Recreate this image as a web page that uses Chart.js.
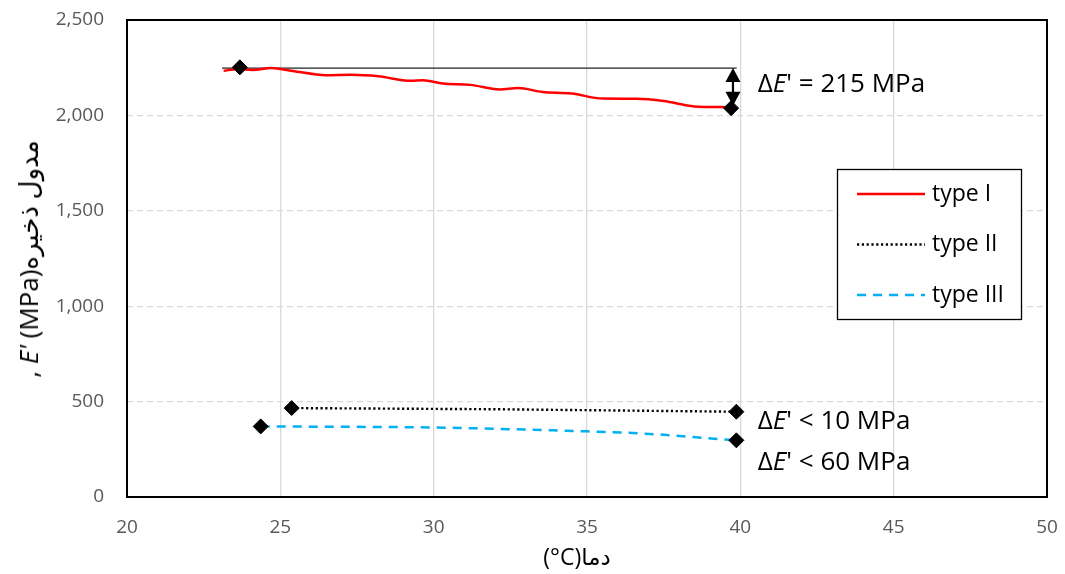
<!DOCTYPE html>
<html>
<head>
<meta charset="utf-8">
<script src="https://cdn.jsdelivr.net/npm/chart.js@4.4.0/dist/chart.umd.min.js"></script>
<style>
  html, body { margin: 0; padding: 0; background: #fff; }
  #wrap { position: relative; width: 1065px; height: 574px; }
  canvas { position: absolute; left: 0; top: 0; }
  .title { position: absolute; font-family: "Open Sans", "DejaVu Sans", sans-serif; font-size: 23px; color: #000; white-space: nowrap; }
  #xtitle { left: 577px; top: 556px; transform: translate(-50%, -50%); direction: ltr; }
  #ytitle { left: 28px; top: 259px; transform: translate(-50%, -50%) rotate(-90deg); direction: ltr; font-size: 26px; }
</style>
</head>
<body>
<div id="wrap">
  <canvas id="c" width="1065" height="574"></canvas>
  <div class="title" id="xtitle" dir="ltr">(°C)<bdi dir="rtl">دما</bdi></div>
  <div class="title" id="ytitle">, <i>E'</i> (MPa)<bdi dir="rtl">مدول ذخیره</bdi></div>
</div>
<script>
// ---- data ----
const xTicks = [20, 25, 30, 35, 40, 45, 50];
const yTicks = [0, 500, 1000, 1500, 2000, 2500];
const seriesNames = ["type I", "type II", "type III"];

const typeI_x = [23.15, 23.6, 24.1, 24.7, 25.4, 26.5, 27.3, 28.2, 29.25, 29.65, 30.3, 31.2, 32.15, 32.75, 33.55, 34.5, 35.5, 36.6, 37.5, 38.5, 39.6];
const typeI_y = [2234, 2242, 2238, 2249, 2233, 2211, 2213, 2205, 2181, 2184, 2167, 2160, 2136, 2143, 2123, 2115, 2088, 2087, 2075, 2047, 2043];

const typeII_x = [25.37, 32.0, 39.87];
const typeII_y = [466, 460, 447];

const typeIII_x = [24.36, 30.0, 34.6, 36.9, 39.87];
const typeIII_y = [370, 364, 346, 332, 297];

const marker_x = [23.68, 39.7, 25.37, 39.87, 24.36, 39.87];
const marker_y = [2252, 2038, 466, 447, 370, 297];

const refLine_x = [23.1, 39.88];
const refLine_y = [2248, 2248];

const arrow_x = 39.76;
const arrow_y = [2248, 2040];

const annot_text = ["= 215 MPa", "< 10 MPa", "< 60 MPa"];
const annot_x = [40.57, 40.57, 40.57];
const annot_y = [2159, 393, 178];

// ---- helpers ----
const pts = (xs, ys) => xs.map((x, i) => ({ x: x, y: ys[i] }));
const FONT = '"Open Sans", "DejaVu Sans", sans-serif';

const overlay = {
  id: 'overlay',
  afterDatasetsDraw(chart) {
    const ctx = chart.ctx, xs = chart.scales.x, ys = chart.scales.y;
    const a = chart.chartArea;
    ctx.save();
    // double-headed arrow
    const ax = xs.getPixelForValue(arrow_x);
    const top = ys.getPixelForValue(arrow_y[0]);
    const bot = ys.getPixelForValue(arrow_y[1]);
    ctx.strokeStyle = '#000'; ctx.fillStyle = '#000'; ctx.lineWidth = 2.2;
    ctx.beginPath(); ctx.moveTo(ax, top + 8); ctx.lineTo(ax, bot - 8); ctx.stroke();
    ctx.beginPath(); ctx.moveTo(ax, top); ctx.lineTo(ax - 7.5, top + 14); ctx.lineTo(ax + 7.5, top + 14); ctx.closePath(); ctx.fill();
    ctx.beginPath(); ctx.moveTo(ax, bot - 2); ctx.lineTo(ax - 7.5, bot - 16); ctx.lineTo(ax + 7.5, bot - 16); ctx.closePath(); ctx.fill();

    // annotations
    ctx.textBaseline = 'middle'; ctx.textAlign = 'left'; ctx.fillStyle = '#000';
    for (let i = 0; i < annot_text.length; i++) {
      let px = xs.getPixelForValue(annot_x[i]);
      const py = ys.getPixelForValue(annot_y[i]);
      ctx.font = '26px ' + FONT;
      ctx.fillText('\u0394', px, py); px += ctx.measureText('\u0394').width;
      ctx.font = 'italic 26px ' + FONT;
      ctx.fillText('E', px, py); px += ctx.measureText('E').width;
      ctx.font = '26px ' + FONT;
      ctx.fillText("' " + annot_text[i], px, py);
    }

    // legend box
    const lx = 837, ly = 169, lw = 184, lh = 150;
    ctx.fillStyle = '#fff'; ctx.fillRect(lx, ly, lw, lh);
    ctx.strokeStyle = '#000'; ctx.lineWidth = 1.3; ctx.strokeRect(lx + 0.5, ly + 0.5, lw, lh);
    const ds = chart.data.datasets.filter(d => seriesNames.includes(d.label));
    ds.forEach((d, i) => {
      const yy = 194 + i * 50.5;
      ctx.save();
      ctx.strokeStyle = d.borderColor; ctx.lineWidth = d.borderWidth;
      ctx.setLineDash(d.borderDash || []);
      ctx.beginPath(); ctx.moveTo(857, yy); ctx.lineTo(925, yy); ctx.stroke();
      ctx.restore();
      ctx.fillStyle = '#000'; ctx.font = '23px ' + FONT; ctx.textBaseline = 'middle';
      ctx.fillText(d.label, 932, yy);
    });

    // plot frame
    ctx.strokeStyle = '#000'; ctx.lineWidth = 2; ctx.setLineDash([]);
    ctx.strokeRect(a.left, a.top, a.right - a.left, a.bottom - a.top);
    ctx.restore();
  }
};

new Chart(document.getElementById('c'), {
  type: 'scatter',
  data: {
    datasets: [
      { label: 'markers', data: pts(marker_x, marker_y), showLine: false, pointStyle: 'rectRot', pointRadius: 7.5, pointBackgroundColor: '#000', pointBorderColor: '#000', order: 0 },
      { label: 'ref', data: pts(refLine_x, refLine_y), showLine: true, borderColor: '#222', borderWidth: 1.3, pointRadius: 0, order: 2 },
      { label: seriesNames[0], data: pts(typeI_x, typeI_y), showLine: true, borderColor: '#ff0000', borderWidth: 2.5, pointRadius: 0, cubicInterpolationMode: 'monotone', tension: 0.4, order: 1 },
      { label: seriesNames[1], data: pts(typeII_x, typeII_y), showLine: true, borderColor: '#000', borderWidth: 2.4, borderDash: [2.2, 2.6], pointRadius: 0, order: 1 },
      { label: seriesNames[2], data: pts(typeIII_x, typeIII_y), showLine: true, borderColor: '#00b0f0', borderWidth: 2.5, borderDash: [9, 7], pointRadius: 0, cubicInterpolationMode: 'monotone', order: 1 }
    ]
  },
  options: {
    responsive: false, animation: false, devicePixelRatio: 1,
    layout: { padding: { left: 0, top: 20, right: 18, bottom: 0 } },
    plugins: { legend: { display: false }, tooltip: { enabled: false } },
    scales: {
      x: {
        type: 'linear', min: xTicks[0], max: xTicks[xTicks.length - 1],
        afterBuildTicks: s => { s.ticks = xTicks.map(v => ({ value: v })); },
        afterFit: s => { s.height = 77; s.paddingLeft = 0; s.paddingRight = 0; },
        grid: { color: '#d9d9d9', lineWidth: 1.3, drawTicks: false },
        border: { display: false },
        ticks: { color: '#595959', font: { family: FONT, size: 19 }, padding: 19 }
      },
      y: {
        type: 'linear', min: yTicks[0], max: yTicks[yTicks.length - 1],
        afterBuildTicks: s => { s.ticks = yTicks.map(v => ({ value: v })); },
        afterFit: s => { s.width = 127; s.paddingTop = 0; s.paddingBottom = 0; },
        grid: { color: '#d9d9d9', lineWidth: 1.3, drawTicks: false },
        border: { display: false, dash: [6, 4] },
        ticks: { color: '#595959', font: { family: FONT, size: 19 }, padding: 23, callback: v => v.toLocaleString('en-US') }
      }
    }
  },
  plugins: [overlay]
});
</script>
</body>
</html>
